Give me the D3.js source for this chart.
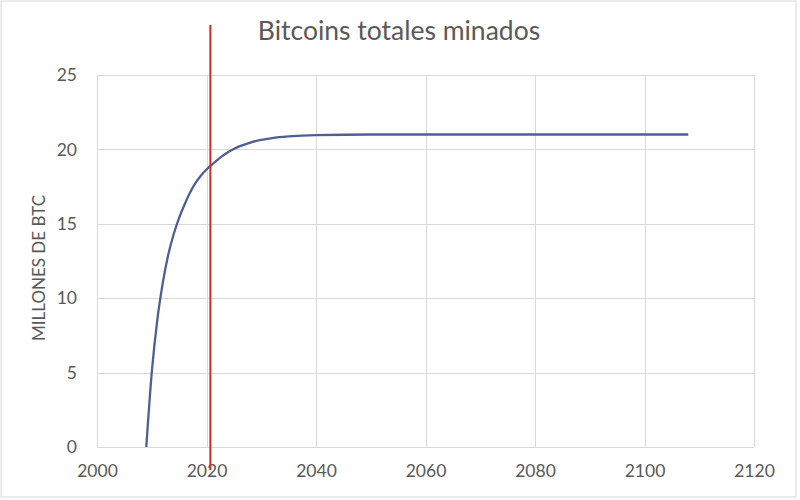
<!DOCTYPE html>
<html>
<head>
<meta charset="utf-8">
<script src="https://cdn.jsdelivr.net/npm/d3@7"></script>
<style>
  body { margin: 0; background: #fff; }
  text { font-family: Lato, "Open Sans", sans-serif; fill: #595959; }
</style>
</head>
<body>
<div id="chart"></div>
<script>
// ━━━━━━━━━━━━━━━━━━━━━━━━━━━━━━━━━━━━━━━━━━━━━━━━━━━━━━━━━━━━
// Datos ///////////////////////////////////////////////////////
// ━━━━━━━━━━━━━━━━━━━━━━━━━━━━━━━━━━━━━━━━━━━━━━━━━━━━━━━━━━━━

const years = [2009, 2010, 2011, 2012, 2013, 2014, 2015, 2016, 2017, 2018, 2019, 2020,
               2021, 2022, 2023, 2024, 2025, 2026, 2028, 2030, 2032, 2035, 2040, 2050,
               2060, 2080, 2100, 2108];
const btc   = [0, 5.0, 8.5, 11.0, 12.9, 14.3, 15.4, 16.3, 17.1, 17.75, 18.25, 18.65,
               18.98, 19.3, 19.58, 19.83, 20.03, 20.2, 20.46, 20.64, 20.76, 20.87, 20.96, 21.0,
               21.0, 21.0, 21.0, 21.0];

const xTicks = [2000, 2020, 2040, 2060, 2080, 2100, 2120];
const yTicks = [0, 5, 10, 15, 20, 25];
const marker = 2020.7;   // línea vertical roja

const title  = 'Bitcoins totales minados';
const yTitle = 'MILLONES DE BTC';

// ━━━━━━━━━━━━━━━━━━━━━━━━━━━━━━━━━━━━━━━━━━━━━━━━━━━━━━━━━━━━
// SVG setup ///////////////////////////////////////////////////
// ━━━━━━━━━━━━━━━━━━━━━━━━━━━━━━━━━━━━━━━━━━━━━━━━━━━━━━━━━━━━

const width = 800, height = 500;
const margin = { top: 75, right: 46, bottom: 53, left: 97 };

const svg = d3.select('#chart').append('svg')
  .attr('width', width)
  .attr('height', height)
  .attr('viewBox', [0, 0, width, height]);

svg.append('rect')
  .attr('x', 1).attr('y', 1)
  .attr('width', 795).attr('height', 496)
  .attr('fill', '#fff')
  .attr('stroke', '#d9d9d9');

const x = d3.scaleLinear().domain([2000, 2120]).range([margin.left, width - margin.right]);
const y = d3.scaleLinear().domain([0, 25]).range([height - margin.bottom, margin.top]);

// grilla
const grid = svg.append('g').attr('stroke', '#d9d9d9').attr('stroke-width', 1);

grid.selectAll('line.h')
  .data(yTicks)
  .join('line')
  .attr('class', 'h')
  .attr('x1', x(2000)).attr('x2', x(2120))
  .attr('y1', d => Math.round(y(d)) + 0.5).attr('y2', d => Math.round(y(d)) + 0.5);

grid.selectAll('line.v')
  .data(xTicks)
  .join('line')
  .attr('class', 'v')
  .attr('y1', y(0)).attr('y2', y(25))
  .attr('x1', d => Math.round(x(d)) + 0.5).attr('x2', d => Math.round(x(d)) + 0.5);

// ejes (solo etiquetas)
const xAxis = svg.append('g')
  .attr('transform', `translate(0,${y(0)})`)
  .call(d3.axisBottom(x).tickValues(xTicks).tickFormat(d3.format('d')).tickSize(0).tickPadding(18));

const yAxis = svg.append('g')
  .attr('transform', `translate(${x(2000)},0)`)
  .call(d3.axisLeft(y).tickValues(yTicks).tickSize(0).tickPadding(20));

[xAxis, yAxis].forEach(a => {
  a.select('.domain').remove();
  a.selectAll('text')
    .attr('font-size', 17.5)
    .attr('font-family', 'Lato, "Open Sans", sans-serif')
    .attr('fill', '#595959');
});

// ━━━━━━━━━━━━━━━━━━━━━━━━━━━━━━━━━━━━━━━━━━━━━━━━━━━━━━━━━━━━
// Curva ///////////////////////////////////////////////////////
// ━━━━━━━━━━━━━━━━━━━━━━━━━━━━━━━━━━━━━━━━━━━━━━━━━━━━━━━━━━━━

const data = years.map((d, i) => ({ year: d, value: btc[i] }));

const line = d3.line()
  .x(d => x(d.year))
  .y(d => y(d.value))
  .curve(d3.curveMonotoneX);

svg.append('path')
  .datum(data)
  .attr('d', line)
  .attr('fill', 'none')
  .attr('stroke', '#4e6093')
  .attr('stroke-width', 2.3);

// línea roja
svg.append('line')
  .attr('x1', x(marker)).attr('x2', x(marker))
  .attr('y1', 25).attr('y2', 470)
  .attr('stroke', '#d42a2a')
  .attr('stroke-width', 2);

// títulos
svg.append('text')
  .attr('x', 399).attr('y', 40)
  .attr('text-anchor', 'middle')
  .attr('font-size', 26.5)
  .text(title);

svg.append('text')
  .attr('transform', `translate(45,${y(12.5) + 7}) rotate(-90)`)
  .attr('text-anchor', 'middle')
  .attr('font-size', 17)
  .text(yTitle);
</script>
</body>
</html>
